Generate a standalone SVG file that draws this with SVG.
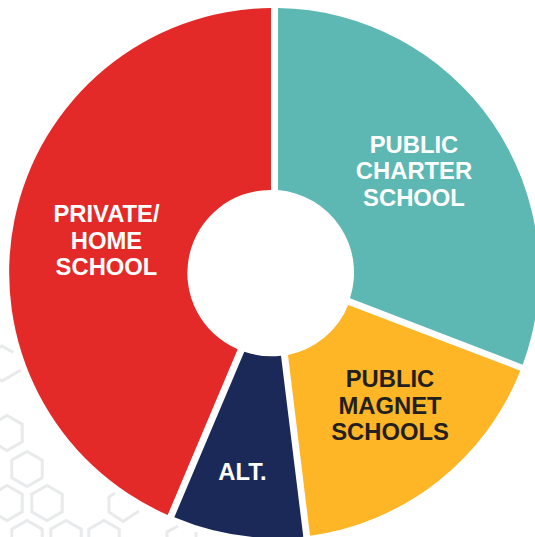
<svg xmlns="http://www.w3.org/2000/svg" width="535" height="537" viewBox="0 0 535 537">
<style>
.hex{fill:none;stroke:#e8eaeb;stroke-width:3}
.lbl{font-family:"Liberation Sans",Arial,sans-serif;font-weight:700;font-size:23.8px;text-anchor:middle}
.w{fill:#fff}.d{fill:#231f20}
</style>
<defs><path id="h" d="M0-17.5L15.2-8.8V8.8L0 17.5L-15.200 8.800V-8.800Z"/></defs>
<rect width="535" height="537" fill="#fff"/>
<g id="background">
<path class="hex" d="M13.500 352.500L2 346L-13 354.500V372L2 381L21 370"/>
<use href="#h" class="hex" x="7" y="433"/>
<use href="#h" class="hex" x="27" y="469"/>
<use href="#h" class="hex" x="7" y="503"/>
<use href="#h" class="hex" x="47" y="503"/>
<use href="#h" class="hex" x="27" y="538"/>
<use href="#h" class="hex" x="66" y="538"/>
<use href="#h" class="hex" x="104" y="538"/>
<path class="hex" d="M115 493L109 497V512L123 521.500L139 511"/>
<path class="hex" d="M178 526L167 532V545"/>
<path class="hex" d="M196 532V540"/>
</g>
<g id="private-home-school">
<path fill="#e42a28" d="M271 8V190A83 83 0 0 0 237.700 349.300L167.700 515A264.600 264.600 0 0 1 271 8Z"/>
<text class="lbl w"><tspan x="106.500" y="222">PRIVATE/</tspan><tspan x="106.500" y="249">HOME</tspan><tspan x="106.500" y="275">SCHOOL</tspan></text>
</g>
<g id="public-charter-school">
<path fill="#5db8b4" d="M278 8A265 265 0 0 1 522.700 364.700L350 298.300A83 83 0 0 0 278 190Z"/>
<text class="lbl w"><tspan x="414" y="153">PUBLIC</tspan><tspan x="414" y="179">CHARTER</tspan><tspan x="414" y="206">SCHOOL</tspan></text>
</g>
<g id="public-magnet-schools">
<path fill="#feb526" d="M348.300 305L520.300 370.700A265 265 0 0 1 310 535.700L288 355A83 83 0 0 0 348.300 305Z"/>
<text class="lbl d"><tspan x="390" y="387">PUBLIC</tspan><tspan x="390" y="414">MAGNET</tspan><tspan x="390" y="440">SCHOOLS</tspan></text>
</g>
<g id="alt">
<path fill="#1a2958" d="M244.300 351.700A83 83 0 0 0 281 355.700L303.300 536.700A265 265 0 0 1 174.300 517.300Z"/>
<text class="lbl w" x="242.500" y="480">ALT.</text>
</g>
</svg>
